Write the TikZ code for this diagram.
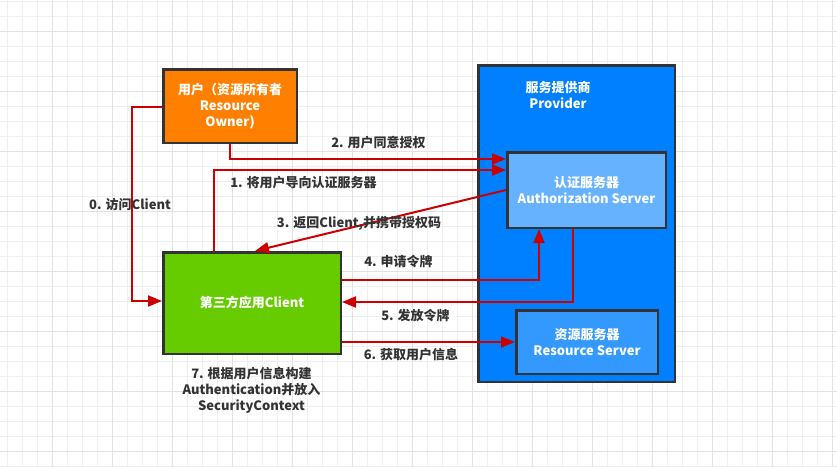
\documentclass[tikz,border=0pt]{standalone}
\usepackage{fontspec}
\setmainfont{Noto Sans CJK SC}
\usetikzlibrary{arrows.meta,calc}
\definecolor{gridminor}{HTML}{EFEFEF}
\definecolor{gridmajor}{HTML}{E2E2E2}
\definecolor{bordergray}{HTML}{333333}
\definecolor{userorange}{HTML}{FF8000}
\definecolor{provblue}{HTML}{0080FF}
\definecolor{authblue}{HTML}{66B2FF}
\definecolor{resblue}{HTML}{3399FF}
\definecolor{clientgreen}{HTML}{66CC00}
\definecolor{arrowred}{HTML}{CC0000}
\definecolor{labelgray}{HTML}{333333}
\begin{document}
\begin{tikzpicture}[x=1pt,y=-1pt,
  box/.style={draw=bordergray, line width=2.5pt, inner sep=0pt, align=center,
    text=white, font=\fontsize{13}{16}\selectfont\bfseries},
  flow/.style={draw=arrowred, line width=2pt, -{Triangle[length=14pt,width=11pt]}},
  lbl/.style={text=labelgray, font=\fontsize{13}{16}\selectfont\bfseries, align=center, inner sep=0pt},
  ]
\useasboundingbox (0,0) rectangle (837,467);
\fill[white] (0,0) rectangle (837,467);
\foreach \x in {7.3,22.3,...,837} \draw[gridminor, line width=1pt] (\x,0) -- (\x,467);
\foreach \y in {1,16,...,467} \draw[gridminor, line width=1pt] (0,\y) -- (837,\y);
\foreach \x in {52.3,112.3,...,837} \draw[gridmajor, line width=1pt] (\x,0) -- (\x,467);
\foreach \y in {31,91,...,467} \draw[gridmajor, line width=1pt] (0,\y) -- (837,\y);

% nodes
\node[box, fill=provblue, minimum width=196.5pt, minimum height=316.5pt] (prov) at (576.5,223.5) {};
\node[lbl, text=white] (provtext) at (558,95) {服务提供商\\Provider};
\node[box, fill=userorange, minimum width=133.5pt, minimum height=73.5pt] (user) at (230,106) {用户（资源所有者\\Resource\\Owner)};
\node[box, fill=authblue, minimum width=158.5pt, minimum height=75.5pt] (auth) at (586.5,190) {认证服务器\\Authorization Server};
\node[box, fill=clientgreen, minimum width=177.5pt, minimum height=101.5pt] (client) at (252,303) {第三方应用Client};
\node[box, fill=resblue, minimum width=141.5pt, minimum height=63.5pt] (res) at (587,342) {资源服务器\\Resource Server};
\node[lbl] (caption) at (251.5,390) {7. 根据用户信息构建\\Authentication并放入\\SecurityContext};

% connectors
\draw[flow] (user.west |- 0,107) -| (132,220) |- (client.west |- 0,301);
\draw[flow] (user.south) |- (auth.west |- 0,159);
\draw[flow] (client.north -| 214,0) |- (auth.west |- 0,170);
\draw[flow] (auth.west) -- (client.north -| 255,0);
\draw[flow] (client.east |- 0,280) -| (auth.south -| 539,0);
\draw[flow] (auth.south -| 573,0) |- (client.east |- 0,302);
\draw[flow] (client.east |- res.west) -- (res.west);

% labels
\node[lbl] (l0) at (130,205) {0. 访问Client};
\node[lbl] (l1) at (303.5,183) {1. 将用户导向认证服务器};
\node[lbl] (l2) at (378.5,143) {2. 用户同意授权};
\node[lbl] (l3) at (359,223) {3. 返回Client,并携带授权码};
\node[lbl] (l4) at (398.5,262) {4. 申请令牌};
\node[lbl] (l5) at (415.5,316) {5. 发放令牌};
\node[lbl] (l6) at (411,355) {6. 获取用户信息};
\end{tikzpicture}
\end{document}
